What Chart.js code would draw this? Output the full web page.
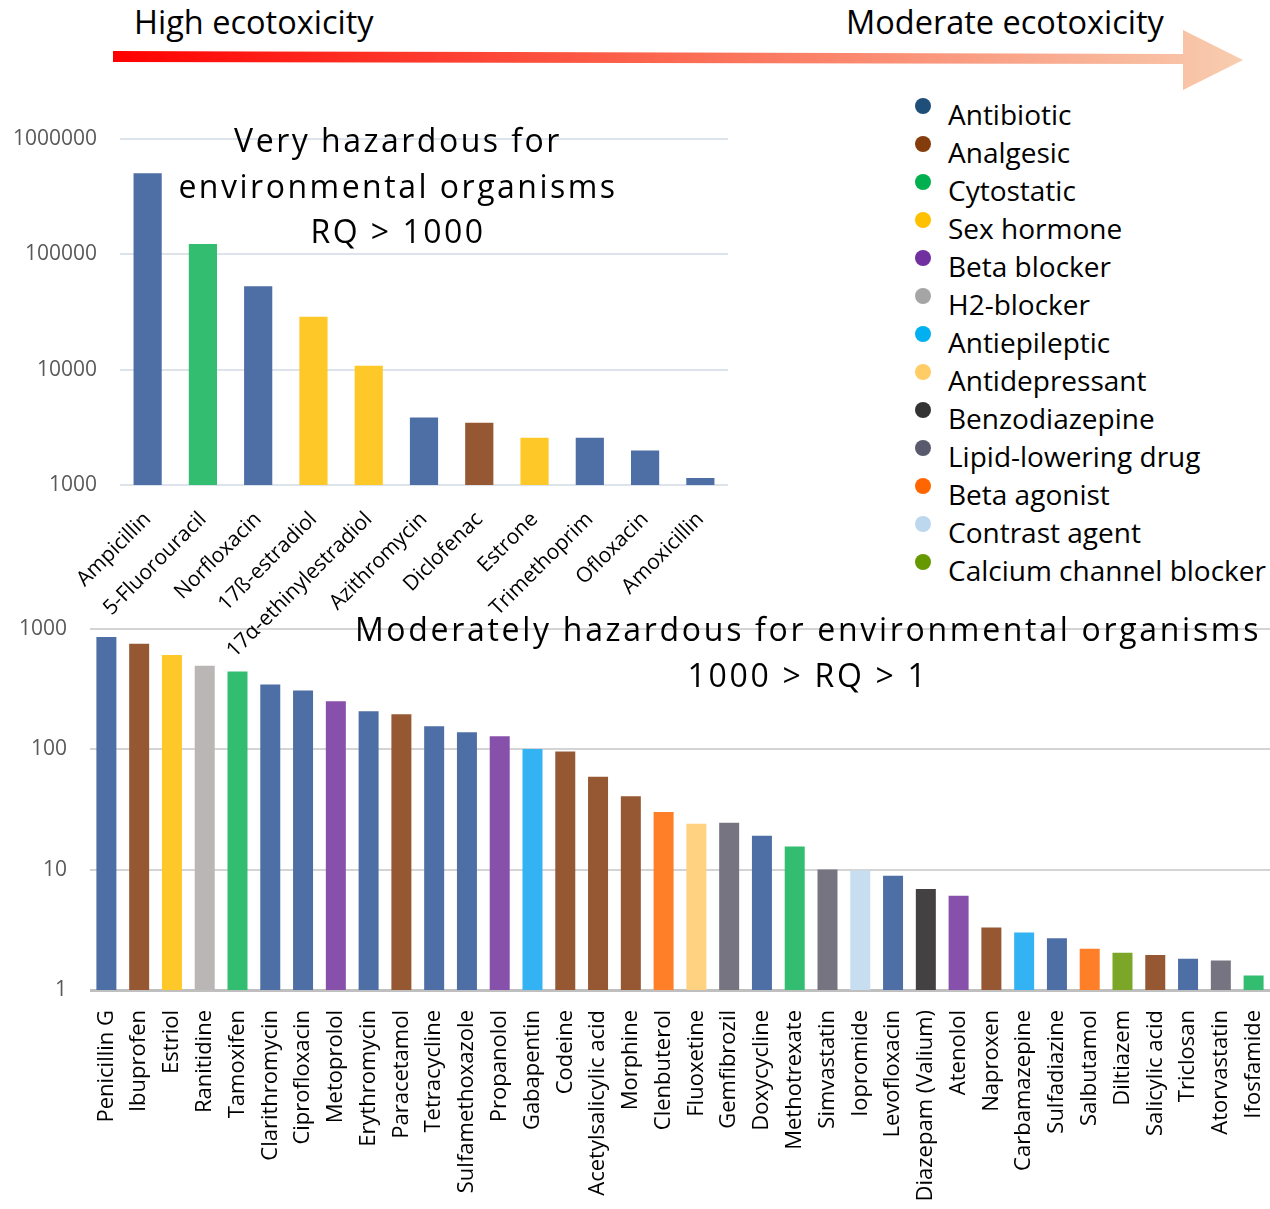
<!DOCTYPE html>
<html>
<head>
<meta charset="utf-8">
<script src="https://cdn.jsdelivr.net/npm/chart.js@4.4.1/dist/chart.umd.min.js"></script>
<style>
  html, body { margin: 0; padding: 0; background: #fff; }
  body { width: 1270px; height: 1209px; position: relative; overflow: hidden; font-family: 'Open Sans', sans-serif; color: #000; }
  canvas { position: absolute; }
  .txt { position: absolute; white-space: nowrap; }
  .title { position: absolute; text-align: center; font-size: 32px; line-height: 45.5px; letter-spacing: 2.5px; }
  #legend { position: absolute; left: 948px; top: 95px; font-size: 28px; line-height: 38px; }
  #legend .item { position: relative; white-space: nowrap; }
  #legend .dot { position: absolute; left: -33px; top: 3px; width: 16px; height: 16px; border-radius: 50%; }
</style>
</head>
<body>
<svg width="1270" height="100" style="position:absolute;left:0;top:0">
  <defs>
    <linearGradient id="arrowGrad" x1="113" y1="0" x2="1243" y2="0" gradientUnits="userSpaceOnUse">
      <stop offset="0" stop-color="#ff0000"/>
      <stop offset="0.5" stop-color="#fb6a52"/>
      <stop offset="1" stop-color="#f8cdb0"/>
    </linearGradient>
  </defs>
  <polygon points="113,51 1183,54 1183,30 1243,60 1183,90 1183,64 113,62" fill="url(#arrowGrad)"/>
</svg>
<div class="txt" style="left:134px;top:0px;font-size:32.5px;line-height:44px">High ecotoxicity</div>
<div class="txt" style="left:846px;top:0px;font-size:32.5px;line-height:44px">Moderate ecotoxicity</div>

<canvas id="bottomChart" width="1292" height="616" style="left:0;top:593px"></canvas>
<canvas id="topChart" width="740" height="560" style="left:0;top:100px"></canvas>

<div class="title" style="left:98px;width:600px;top:117px">Very hazardous for<br>environmental organisms<br>RQ &gt; 1000</div>
<div class="title" style="left:308px;width:1000px;top:606px;letter-spacing:2.7px">Moderately hazardous for environmental organisms<br>1000 &gt; RQ &gt; 1</div>

<div id="legend"></div>

<script>
// drug classes (legend order)
const classNames = ['Antibiotic', 'Analgesic', 'Cytostatic', 'Sex hormone', 'Beta blocker', 'H2-blocker',
  'Antiepileptic', 'Antidepressant', 'Benzodiazepine', 'Lipid-lowering drug', 'Beta agonist',
  'Contrast agent', 'Calcium channel blocker'];
const dotColors = ['#1f4e79', '#843c0c', '#00b050', '#ffc000', '#7030a0', '#a5a5a5',
  '#00b0f0', '#ffcc66', '#333333', '#5a5a6e', '#ff6600', '#bdd7ee', '#669900'];
const barColors = ['#4e6ea6', '#965832', '#33bd70', '#fec828', '#8750ab', '#b9b6b5',
  '#33b3f3', '#fed280', '#434142', '#777482', '#fe7f28', '#c7ddf0', '#7ba628'];

// RQ > 1000
const topDrugs = ['Ampicillin', '5-Fluorouracil', 'Norfloxacin', '17ß-estradiol', '17α-ethinylestradiol',
  'Azithromycin', 'Diclofenac', 'Estrone', 'Trimethoprim', 'Ofloxacin', 'Amoxicillin'];
const topRQ = [505000, 123000, 53000, 28700, 10800, 3840, 3470, 2570, 2570, 1990, 1150];
const topClass = ['Antibiotic', 'Cytostatic', 'Antibiotic', 'Sex hormone', 'Sex hormone',
  'Antibiotic', 'Analgesic', 'Sex hormone', 'Antibiotic', 'Antibiotic', 'Antibiotic'];
const topTicks = [1000, 10000, 100000, 1000000];

// 1000 > RQ > 1
const bottomDrugs = ['Penicillin G', 'Ibuprofen', 'Estriol', 'Ranitidine', 'Tamoxifen', 'Clarithromycin',
  'Ciprofloxacin', 'Metoprolol', 'Erythromycin', 'Paracetamol', 'Tetracycline', 'Sulfamethoxazole',
  'Propanolol', 'Gabapentin', 'Codeine', 'Acetylsalicylic acid', 'Morphine', 'Clenbuterol',
  'Fluoxetine', 'Gemfibrozil', 'Doxycycline', 'Methotrexate', 'Simvastatin', 'Iopromide',
  'Levofloxacin', 'Diazepam (Valium)', 'Atenolol', 'Naproxen', 'Carbamazepine', 'Sulfadiazine',
  'Salbutamol', 'Diltiazem', 'Salicylic acid', 'Triclosan', 'Atorvastatin', 'Ifosfamide'];
const bottomRQ = [850, 748, 605, 492, 440, 344, 306, 249, 206, 195, 155, 138,
  128, 100, 95.5, 59, 40.5, 30, 24, 24.5, 19.1, 15.5, 10, 9.8,
  8.9, 6.9, 6.07, 3.3, 3.0, 2.69, 2.2, 2.04, 1.95, 1.82, 1.76, 1.32];
const bottomClass = ['Antibiotic', 'Analgesic', 'Sex hormone', 'H2-blocker', 'Cytostatic', 'Antibiotic',
  'Antibiotic', 'Beta blocker', 'Antibiotic', 'Analgesic', 'Antibiotic', 'Antibiotic',
  'Beta blocker', 'Antiepileptic', 'Analgesic', 'Analgesic', 'Analgesic', 'Beta agonist',
  'Antidepressant', 'Lipid-lowering drug', 'Antibiotic', 'Cytostatic', 'Lipid-lowering drug', 'Contrast agent',
  'Antibiotic', 'Benzodiazepine', 'Beta blocker', 'Analgesic', 'Antiepileptic', 'Antibiotic',
  'Beta agonist', 'Calcium channel blocker', 'Analgesic', 'Antibiotic', 'Lipid-lowering drug', 'Cytostatic'];
const bottomTicks = [1, 10, 100, 1000];

const colorOf = c => barColors[classNames.indexOf(c)];
const tickFont = { family: 'Open Sans', size: 21 };

// legend
const legendEl = document.getElementById('legend');
classNames.forEach((name, i) => {
  const item = document.createElement('div');
  item.className = 'item';
  item.innerHTML = '<span class="dot" style="background:' + dotColors[i] + '"></span>' + name;
  legendEl.appendChild(item);
});

new Chart(document.getElementById('topChart'), {
  type: 'bar',
  data: {
    labels: topDrugs,
    datasets: [{
      data: topRQ,
      backgroundColor: topClass.map(colorOf),
      barPercentage: 0.51,
      categoryPercentage: 1
    }]
  },
  options: {
    responsive: false,
    animation: false,
    layout: { padding: { top: 39, right: 12, left: 0, bottom: 0 } },
    plugins: { legend: { display: false }, tooltip: { enabled: false } },
    scales: {
      x: {
        grid: { display: false },
        border: { display: false },
        ticks: { minRotation: 45, maxRotation: 45, autoSkip: false, padding: 14, color: '#000', font: tickFont },
        afterFit: s => { s.height = 175; }
      },
      y: {
        type: 'logarithmic',
        min: 1000,
        max: 1000000,
        grid: { color: '#dde3ea', lineWidth: 2, drawTicks: false },
        border: { display: false },
        ticks: { padding: 23, color: '#595959', font: tickFont, callback: v => String(v) },
        afterBuildTicks: s => { s.ticks = topTicks.map(v => ({ value: v })); },
        afterFit: s => { s.width = 120; }
      }
    }
  }
});

new Chart(document.getElementById('bottomChart'), {
  type: 'bar',
  data: {
    labels: bottomDrugs,
    datasets: [{
      data: bottomRQ,
      backgroundColor: bottomClass.map(colorOf),
      barPercentage: 0.61,
      categoryPercentage: 1
    }]
  },
  options: {
    responsive: false,
    animation: false,
    layout: { padding: { top: 20, right: 0, left: 0, bottom: 0 } },
    plugins: { legend: { display: false }, tooltip: { enabled: false } },
    scales: {
      x: {
        grid: { display: false },
        border: { display: false },
        ticks: { minRotation: 90, maxRotation: 90, autoSkip: false, padding: 12, color: '#000', font: { family: 'Open Sans', size: 22 } },
        afterFit: s => { s.height = 219; }
      },
      y: {
        type: 'logarithmic',
        min: 1,
        max: 1000,
        grid: {
          color: ctx => ctx.tick && ctx.tick.value === 1 ? '#bfbfbf' : '#d4d4d4',
          lineWidth: ctx => ctx.tick && ctx.tick.value === 1 ? 3 : 2,
          drawTicks: false
        },
        border: { display: false },
        ticks: { padding: 23, color: '#595959', font: tickFont, callback: v => String(v) },
        afterBuildTicks: s => { s.ticks = bottomTicks.map(v => ({ value: v })); },
        afterFit: s => { s.width = 90; }
      }
    }
  }
});
</script>
</body>
</html>
